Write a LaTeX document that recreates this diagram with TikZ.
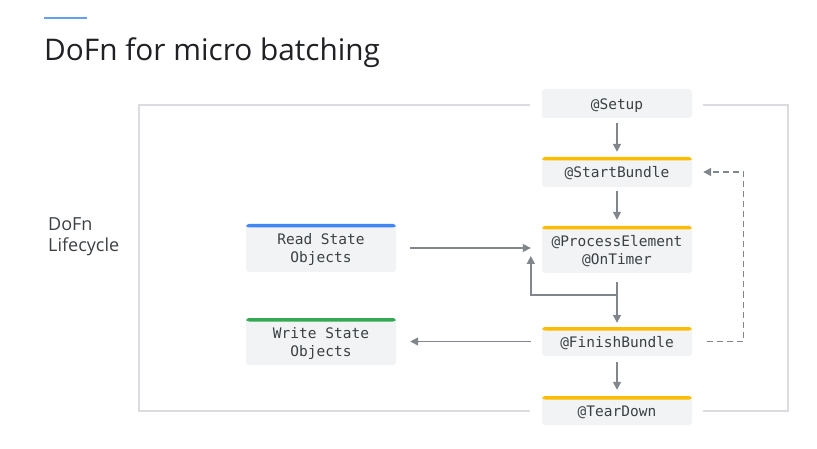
\documentclass[tikz,border=0pt]{standalone}
\usepackage{fontspec}
\setmainfont{Open Sans}
\setmonofont{DejaVu Sans Mono}
\usetikzlibrary{arrows.meta}
\definecolor{boxgray}{HTML}{F1F3F4}
\definecolor{textgray}{HTML}{3C4043}
\definecolor{titlegray}{HTML}{202124}
\definecolor{arrowgray}{HTML}{80868B}
\definecolor{framegray}{HTML}{DADCE0}
\definecolor{gyellow}{HTML}{FBBC04}
\definecolor{gblue}{HTML}{4285F4}
\definecolor{ggreen}{HTML}{34A853}
\definecolor{lineblue}{HTML}{669DF6}
\begin{document}
\begin{tikzpicture}[x=1pt,y=-1pt,
	stage/.style={fill=boxgray, rounded corners=3pt, minimum width=150pt, minimum height=29pt,
		inner sep=0pt, align=center, text=textgray, text height=15.5pt, text depth=4pt,
		font=\ttfamily\fontsize{14.5}{18}\selectfont},
	twoline/.style={text height=34pt, text depth=4pt},
	bar/.style={path picture={\fill[#1] (path picture bounding box.north west)
		rectangle ([yshift=-3.5pt]path picture bounding box.north east);}},
	flow/.style={draw=arrowgray, line width=1.5pt, -{Triangle[length=8pt,width=8pt]}},
	frame/.style={draw=framegray, line width=1.5pt}]
	\useasboundingbox (0,0) rectangle (817,449);
	% heading
	\draw [lineblue, line width=2pt] (44,18) -- (87,18);
	\node [anchor=base west, inner sep=0pt, text=titlegray, font=\fontsize{29.8}{36}\selectfont] (title) at (44,61) {DoFn for micro batching};
	\node [anchor=north west, inner sep=0pt, align=left, text=textgray, font=\fontsize{18}{21}\selectfont] (life) at (48,217) {DoFn\\Lifecycle};
	% lifecycle
	\node [stage] (setup) at (617,103.5) {@Setup};
	\node [stage, bar=gyellow, minimum height=30pt] (start) at (617,172) {@StartBundle};
	\node [stage, twoline, bar=gyellow, minimum height=47pt] (process) at (617,249.5) {@ProcessElement\\@OnTimer};
	\node [stage, bar=gyellow] (finish) at (617,341.5) {@FinishBundle};
	\node [stage, bar=gyellow] (teardown) at (617,410.5) {@TearDown};
	\node [stage, twoline, bar=gblue, minimum height=48pt] (read) at (321,248) {Read State\\Objects};
	\node [stage, twoline, bar=ggreen, minimum height=47pt] (write) at (321,341.5) {Write State\\Objects};
	\coordinate (split) at (617,295);
	% frame
	\draw [frame] (530,105) -| (139,411) -- (530,411);
	\draw [frame] (703,105) -| (788,411) -- (703,411);
	% arrows
	\draw [flow] ([yshift=-5pt]setup.south) -- ([yshift=5pt]start.north);
	\draw [flow] ([yshift=-4pt]start.south) -- ([yshift=6pt]process.north);
	\draw [flow] ([yshift=-9pt]process.south) -- ([yshift=4pt]finish.north);
	\draw [flow] (split) -| ([xshift=-11pt,yshift=-6.5pt]process.west);
	\draw [flow] ([xshift=14pt]read.east) -- ([xshift=-11pt]process.west |- read.east);
	\draw [flow] ([xshift=-11pt]finish.west) -- ([xshift=14pt]write.east);
	\draw [flow] ([yshift=-6pt]finish.south) -- ([yshift=6pt]teardown.north);
	\draw [flow, dash pattern=on 6pt off 4pt, line width=1.4pt] ([xshift=15pt]finish.east) -- ++(36,0) |- ([xshift=11pt]start.east);
\end{tikzpicture}
\end{document}
